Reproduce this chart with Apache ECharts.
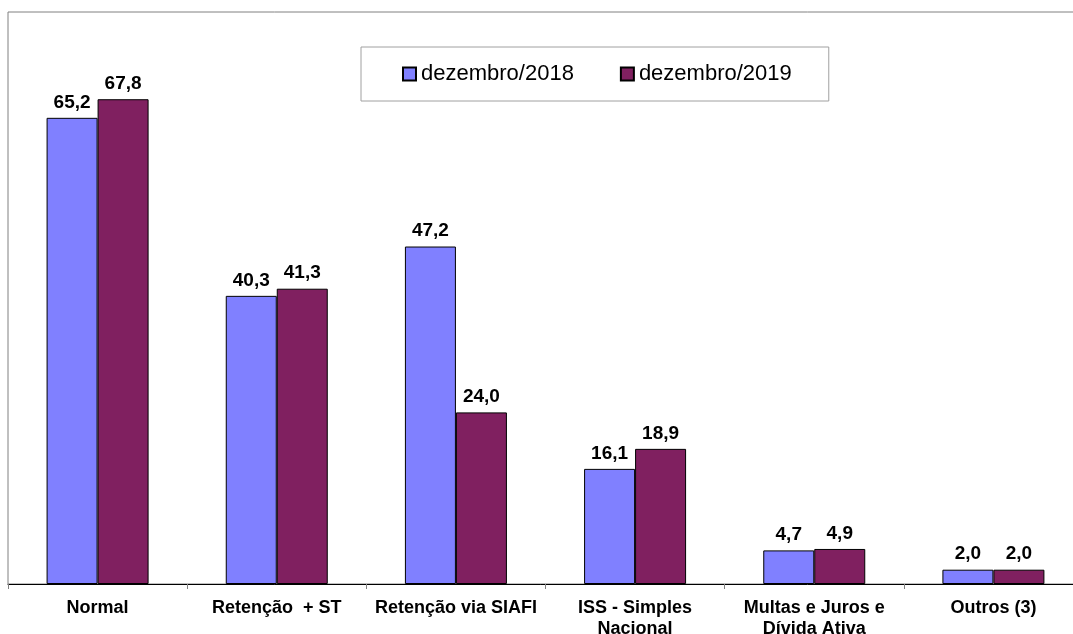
<!DOCTYPE html>
<html>
<head>
<meta charset="utf-8">
<script src="https://cdn.jsdelivr.net/npm/echarts@6/dist/echarts.min.js"></script>
<style>
  html, body { margin: 0; padding: 0; background: #ffffff; }
  #chart { width: 1073px; height: 634px; }
</style>
</head>
<body>
<div id="chart"></div>
<script>
// Categories and the two December series
const categories = [
  'Normal',
  'Retenção  + ST',
  'Retenção via SIAFI',
  'ISS - Simples\nNacional',
  'Multas e Juros e\nDívida Ativa',
  'Outros (3)'
];
const seriesNames = ['dezembro/2018', 'dezembro/2019'];
const values2018 = [65.2, 40.3, 47.2, 16.1, 4.7, 2.0];
const values2019 = [67.8, 41.3, 24.0, 18.9, 4.9, 2.0];

const FONT = "'Liberation Sans', Arial, sans-serif";

const fmt = v => v.toFixed(1).replace('.', ',');

const barLabel = {
  show: true,
  position: 'top',
  distance: 6,
  color: '#000',
  fontFamily: FONT,
  fontWeight: 'bold',
  fontSize: 19,
  formatter: p => fmt(p.value)
};

const chart = echarts.init(document.getElementById('chart'), null, { renderer: 'canvas' });
chart.setOption({
  backgroundColor: '#ffffff',
  animation: false,
  legend: {
    data: seriesNames,
    left: 361,
    top: 47,
    padding: [16, 37, 16, 41],
    backgroundColor: '#ffffff',
    borderColor: '#a0a0a0',
    borderWidth: 1,
    itemWidth: 13,
    itemHeight: 13,
    itemGap: 46,
    icon: 'rect',
    textStyle: { fontFamily: FONT, fontSize: 22, color: '#000' }
  },
  // plot area runs past the right edge of the canvas, so its right border is cut off
  grid: {
    show: true,
    left: 8,
    top: 12,
    width: 1075,
    height: 572,
    borderColor: '#808080',
    borderWidth: 1,
    containLabel: false,
    outerBoundsMode: 'none'
  },
  xAxis: {
    type: 'category',
    data: categories,
    axisLine: { show: true, lineStyle: { color: '#000', width: 1 } },
    axisTick: { show: true, length: 5, lineStyle: { color: '#808080' } },
    axisLabel: {
      interval: 0,
      margin: 14,
      color: '#000',
      fontFamily: FONT,
      fontWeight: 'bold',
      fontSize: 18,
      lineHeight: 21
    }
  },
  yAxis: {
    type: 'value',
    min: 0,
    max: 80,
    show: false,
    splitLine: { show: false }
  },
  series: [
    {
      name: seriesNames[0],
      type: 'bar',
      data: values2018,
      barWidth: 51,
      barGap: '0%',
      itemStyle: { color: '#8080ff', borderColor: '#000', borderWidth: 1 },
      label: barLabel
    },
    {
      name: seriesNames[1],
      type: 'bar',
      data: values2019,
      barWidth: 51,
      barGap: '0%',
      itemStyle: { color: '#802060', borderColor: '#000', borderWidth: 1 },
      label: barLabel
    }
  ]
});
</script>
</body>
</html>
